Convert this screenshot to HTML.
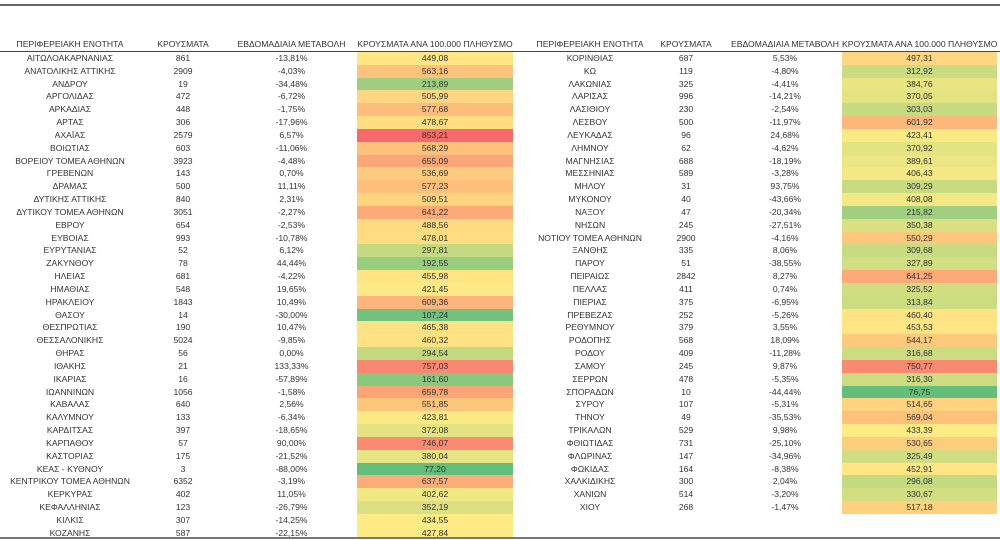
<!DOCTYPE html>
<html><head><meta charset="utf-8">
<style>
html,body{margin:0;padding:0;background:#fff;}
body{width:1000px;height:540px;position:relative;overflow:hidden;font-family:"Liberation Sans","DejaVu Sans",sans-serif;font-size:8.6px;color:#333;}
.topline{position:absolute;left:0;top:4px;width:1000px;height:2px;background:#666;}
.botline{position:absolute;left:0;top:537px;width:1000px;height:2px;background:#777;}
.hline{position:absolute;left:0;top:51px;width:1000px;height:1px;background:#444;}
.tbl{position:absolute;top:38px;}
.row{display:flex;height:12.83px;line-height:12.83px;white-space:nowrap;}
.hdr{height:13px;line-height:13px;}
.row div{text-align:center;overflow:visible;}
#L{left:0;} #R{left:520px;}
#L .c1{width:140px}#L .c2{width:86px}#L .c3{width:131px}#L .c4{width:156px}
#R .c1{width:140px}#R .c2{width:52px}#R .c3{width:114px;padding-left:16px}#R .c4{width:155px}
</style></head><body>
<div class="topline"></div>
<div class="tbl" id="L">
<div class="row hdr"><div class="c1">ΠΕΡΙΦΕΡΕΙΑΚΗ ΕΝΟΤΗΤΑ</div><div class="c2">ΚΡΟΥΣΜΑΤΑ</div><div class="c3">ΕΒΔΟΜΑΔΙΑΙΑ ΜΕΤΑΒΟΛΗ</div><div class="c4">ΚΡΟΥΣΜΑΤΑ ΑΝΑ 100.000 ΠΛΗΘΥΣΜΟ</div></div>
<div style="height:1px"></div>
<div class="row"><div class="c1">ΑΙΤΩΛΟΑΚΑΡΝΑΝΙΑΣ</div><div class="c2">861</div><div class="c3">-13,81%</div><div class="c4 v">449,08</div></div>
<div class="row"><div class="c1">ΑΝΑΤΟΛΙΚΗΣ ΑΤΤΙΚΗΣ</div><div class="c2">2909</div><div class="c3">-4,03%</div><div class="c4 v">563,16</div></div>
<div class="row"><div class="c1">ΑΝΔΡΟΥ</div><div class="c2">19</div><div class="c3">-34,48%</div><div class="c4 v">213,89</div></div>
<div class="row"><div class="c1">ΑΡΓΟΛΙΔΑΣ</div><div class="c2">472</div><div class="c3">-6,72%</div><div class="c4 v">505,99</div></div>
<div class="row"><div class="c1">ΑΡΚΑΔΙΑΣ</div><div class="c2">448</div><div class="c3">-1,75%</div><div class="c4 v">577,68</div></div>
<div class="row"><div class="c1">ΑΡΤΑΣ</div><div class="c2">306</div><div class="c3">-17,96%</div><div class="c4 v">478,67</div></div>
<div class="row"><div class="c1">ΑΧΑΪΑΣ</div><div class="c2">2579</div><div class="c3">6,57%</div><div class="c4 v">853,21</div></div>
<div class="row"><div class="c1">ΒΟΙΩΤΙΑΣ</div><div class="c2">603</div><div class="c3">-11,06%</div><div class="c4 v">568,29</div></div>
<div class="row"><div class="c1">ΒΟΡΕΙΟΥ ΤΟΜΕΑ ΑΘΗΝΩΝ</div><div class="c2">3923</div><div class="c3">-4,48%</div><div class="c4 v">655,09</div></div>
<div class="row"><div class="c1">ΓΡΕΒΕΝΩΝ</div><div class="c2">143</div><div class="c3">0,70%</div><div class="c4 v">536,69</div></div>
<div class="row"><div class="c1">ΔΡΑΜΑΣ</div><div class="c2">500</div><div class="c3">11,11%</div><div class="c4 v">577,23</div></div>
<div class="row"><div class="c1">ΔΥΤΙΚΗΣ ΑΤΤΙΚΗΣ</div><div class="c2">840</div><div class="c3">2,31%</div><div class="c4 v">509,51</div></div>
<div class="row"><div class="c1">ΔΥΤΙΚΟΥ ΤΟΜΕΑ ΑΘΗΝΩΝ</div><div class="c2">3051</div><div class="c3">-2,27%</div><div class="c4 v">641,22</div></div>
<div class="row"><div class="c1">ΕΒΡΟΥ</div><div class="c2">654</div><div class="c3">-2,53%</div><div class="c4 v">488,56</div></div>
<div class="row"><div class="c1">ΕΥΒΟΙΑΣ</div><div class="c2">993</div><div class="c3">-10,78%</div><div class="c4 v">478,01</div></div>
<div class="row"><div class="c1">ΕΥΡΥΤΑΝΙΑΣ</div><div class="c2">52</div><div class="c3">6,12%</div><div class="c4 v">297,81</div></div>
<div class="row"><div class="c1">ΖΑΚΥΝΘΟΥ</div><div class="c2">78</div><div class="c3">44,44%</div><div class="c4 v">192,55</div></div>
<div class="row"><div class="c1">ΗΛΕΙΑΣ</div><div class="c2">681</div><div class="c3">-4,22%</div><div class="c4 v">455,98</div></div>
<div class="row"><div class="c1">ΗΜΑΘΙΑΣ</div><div class="c2">548</div><div class="c3">19,65%</div><div class="c4 v">421,45</div></div>
<div class="row"><div class="c1">ΗΡΑΚΛΕΙΟΥ</div><div class="c2">1843</div><div class="c3">10,49%</div><div class="c4 v">609,36</div></div>
<div class="row"><div class="c1">ΘΑΣΟΥ</div><div class="c2">14</div><div class="c3">-30,00%</div><div class="c4 v">107,24</div></div>
<div class="row"><div class="c1">ΘΕΣΠΡΩΤΙΑΣ</div><div class="c2">190</div><div class="c3">10,47%</div><div class="c4 v">465,38</div></div>
<div class="row"><div class="c1">ΘΕΣΣΑΛΟΝΙΚΗΣ</div><div class="c2">5024</div><div class="c3">-9,85%</div><div class="c4 v">460,32</div></div>
<div class="row"><div class="c1">ΘΗΡΑΣ</div><div class="c2">56</div><div class="c3">0,00%</div><div class="c4 v">294,54</div></div>
<div class="row"><div class="c1">ΙΘΑΚΗΣ</div><div class="c2">21</div><div class="c3">133,33%</div><div class="c4 v">757,03</div></div>
<div class="row"><div class="c1">ΙΚΑΡΙΑΣ</div><div class="c2">16</div><div class="c3">-57,89%</div><div class="c4 v">161,60</div></div>
<div class="row"><div class="c1">ΙΩΑΝΝΙΝΩΝ</div><div class="c2">1056</div><div class="c3">-1,58%</div><div class="c4 v">659,78</div></div>
<div class="row"><div class="c1">ΚΑΒΑΛΑΣ</div><div class="c2">640</div><div class="c3">2,56%</div><div class="c4 v">551,85</div></div>
<div class="row"><div class="c1">ΚΑΛΥΜΝΟΥ</div><div class="c2">133</div><div class="c3">-6,34%</div><div class="c4 v">423,81</div></div>
<div class="row"><div class="c1">ΚΑΡΔΙΤΣΑΣ</div><div class="c2">397</div><div class="c3">-18,65%</div><div class="c4 v">372,08</div></div>
<div class="row"><div class="c1">ΚΑΡΠΑΘΟΥ</div><div class="c2">57</div><div class="c3">90,00%</div><div class="c4 v">746,07</div></div>
<div class="row"><div class="c1">ΚΑΣΤΟΡΙΑΣ</div><div class="c2">175</div><div class="c3">-21,52%</div><div class="c4 v">380,04</div></div>
<div class="row"><div class="c1">ΚΕΑΣ - ΚΥΘΝΟΥ</div><div class="c2">3</div><div class="c3">-88,00%</div><div class="c4 v">77,20</div></div>
<div class="row"><div class="c1">ΚΕΝΤΡΙΚΟΥ ΤΟΜΕΑ ΑΘΗΝΩΝ</div><div class="c2">6352</div><div class="c3">-3,19%</div><div class="c4 v">637,57</div></div>
<div class="row"><div class="c1">ΚΕΡΚΥΡΑΣ</div><div class="c2">402</div><div class="c3">11,05%</div><div class="c4 v">402,62</div></div>
<div class="row"><div class="c1">ΚΕΦΑΛΛΗΝΙΑΣ</div><div class="c2">123</div><div class="c3">-26,79%</div><div class="c4 v">352,19</div></div>
<div class="row"><div class="c1">ΚΙΛΚΙΣ</div><div class="c2">307</div><div class="c3">-14,25%</div><div class="c4 v">434,55</div></div>
<div class="row"><div class="c1">ΚΟΖΑΝΗΣ</div><div class="c2">587</div><div class="c3">-22,15%</div><div class="c4 v">427,84</div></div>
</div>
<div class="tbl" id="R">
<div class="row hdr"><div class="c1">ΠΕΡΙΦΕΡΕΙΑΚΗ ΕΝΟΤΗΤΑ</div><div class="c2">ΚΡΟΥΣΜΑΤΑ</div><div class="c3">ΕΒΔΟΜΑΔΙΑΙΑ ΜΕΤΑΒΟΛΗ</div><div class="c4">ΚΡΟΥΣΜΑΤΑ ΑΝΑ 100.000 ΠΛΗΘΥΣΜΟ</div></div>
<div style="height:1px"></div>
<div class="row"><div class="c1">ΚΟΡΙΝΘΙΑΣ</div><div class="c2">687</div><div class="c3">5,53%</div><div class="c4 v">497,31</div></div>
<div class="row"><div class="c1">ΚΩ</div><div class="c2">119</div><div class="c3">-4,80%</div><div class="c4 v">312,92</div></div>
<div class="row"><div class="c1">ΛΑΚΩΝΙΑΣ</div><div class="c2">325</div><div class="c3">-4,41%</div><div class="c4 v">384,76</div></div>
<div class="row"><div class="c1">ΛΑΡΙΣΑΣ</div><div class="c2">996</div><div class="c3">-14,21%</div><div class="c4 v">370,05</div></div>
<div class="row"><div class="c1">ΛΑΣΙΘΙΟΥ</div><div class="c2">230</div><div class="c3">-2,54%</div><div class="c4 v">303,03</div></div>
<div class="row"><div class="c1">ΛΕΣΒΟΥ</div><div class="c2">500</div><div class="c3">-11,97%</div><div class="c4 v">601,92</div></div>
<div class="row"><div class="c1">ΛΕΥΚΑΔΑΣ</div><div class="c2">96</div><div class="c3">24,68%</div><div class="c4 v">423,41</div></div>
<div class="row"><div class="c1">ΛΗΜΝΟΥ</div><div class="c2">62</div><div class="c3">-4,62%</div><div class="c4 v">370,92</div></div>
<div class="row"><div class="c1">ΜΑΓΝΗΣΙΑΣ</div><div class="c2">688</div><div class="c3">-18,19%</div><div class="c4 v">389,61</div></div>
<div class="row"><div class="c1">ΜΕΣΣΗΝΙΑΣ</div><div class="c2">589</div><div class="c3">-3,28%</div><div class="c4 v">406,43</div></div>
<div class="row"><div class="c1">ΜΗΛΟΥ</div><div class="c2">31</div><div class="c3">93,75%</div><div class="c4 v">309,29</div></div>
<div class="row"><div class="c1">ΜΥΚΟΝΟΥ</div><div class="c2">40</div><div class="c3">-43,66%</div><div class="c4 v">408,08</div></div>
<div class="row"><div class="c1">ΝΑΞΟΥ</div><div class="c2">47</div><div class="c3">-20,34%</div><div class="c4 v">215,82</div></div>
<div class="row"><div class="c1">ΝΗΣΩΝ</div><div class="c2">245</div><div class="c3">-27,51%</div><div class="c4 v">350,38</div></div>
<div class="row"><div class="c1">ΝΟΤΙΟΥ ΤΟΜΕΑ ΑΘΗΝΩΝ</div><div class="c2">2900</div><div class="c3">-4,16%</div><div class="c4 v">550,29</div></div>
<div class="row"><div class="c1">ΞΑΝΘΗΣ</div><div class="c2">335</div><div class="c3">8,06%</div><div class="c4 v">309,68</div></div>
<div class="row"><div class="c1">ΠΑΡΟΥ</div><div class="c2">51</div><div class="c3">-38,55%</div><div class="c4 v">327,89</div></div>
<div class="row"><div class="c1">ΠΕΙΡΑΙΩΣ</div><div class="c2">2842</div><div class="c3">8,27%</div><div class="c4 v">641,25</div></div>
<div class="row"><div class="c1">ΠΕΛΛΑΣ</div><div class="c2">411</div><div class="c3">0,74%</div><div class="c4 v">325,52</div></div>
<div class="row"><div class="c1">ΠΙΕΡΙΑΣ</div><div class="c2">375</div><div class="c3">-6,95%</div><div class="c4 v">313,84</div></div>
<div class="row"><div class="c1">ΠΡΕΒΕΖΑΣ</div><div class="c2">252</div><div class="c3">-5,26%</div><div class="c4 v">460,40</div></div>
<div class="row"><div class="c1">ΡΕΘΥΜΝΟΥ</div><div class="c2">379</div><div class="c3">3,55%</div><div class="c4 v">453,53</div></div>
<div class="row"><div class="c1">ΡΟΔΟΠΗΣ</div><div class="c2">568</div><div class="c3">18,09%</div><div class="c4 v">544,17</div></div>
<div class="row"><div class="c1">ΡΟΔΟΥ</div><div class="c2">409</div><div class="c3">-11,28%</div><div class="c4 v">316,68</div></div>
<div class="row"><div class="c1">ΣΑΜΟΥ</div><div class="c2">245</div><div class="c3">9,87%</div><div class="c4 v">750,77</div></div>
<div class="row"><div class="c1">ΣΕΡΡΩΝ</div><div class="c2">478</div><div class="c3">-5,35%</div><div class="c4 v">316,30</div></div>
<div class="row"><div class="c1">ΣΠΟΡΑΔΩΝ</div><div class="c2">10</div><div class="c3">-44,44%</div><div class="c4 v">76,75</div></div>
<div class="row"><div class="c1">ΣΥΡΟΥ</div><div class="c2">107</div><div class="c3">-5,31%</div><div class="c4 v">514,65</div></div>
<div class="row"><div class="c1">ΤΗΝΟΥ</div><div class="c2">49</div><div class="c3">-35,53%</div><div class="c4 v">569,04</div></div>
<div class="row"><div class="c1">ΤΡΙΚΑΛΩΝ</div><div class="c2">529</div><div class="c3">9,98%</div><div class="c4 v">433,39</div></div>
<div class="row"><div class="c1">ΦΘΙΩΤΙΔΑΣ</div><div class="c2">731</div><div class="c3">-25,10%</div><div class="c4 v">530,65</div></div>
<div class="row"><div class="c1">ΦΛΩΡΙΝΑΣ</div><div class="c2">147</div><div class="c3">-34,96%</div><div class="c4 v">325,49</div></div>
<div class="row"><div class="c1">ΦΩΚΙΔΑΣ</div><div class="c2">164</div><div class="c3">-8,38%</div><div class="c4 v">452,91</div></div>
<div class="row"><div class="c1">ΧΑΛΚΙΔΙΚΗΣ</div><div class="c2">300</div><div class="c3">2,04%</div><div class="c4 v">296,08</div></div>
<div class="row"><div class="c1">ΧΑΝΙΩΝ</div><div class="c2">514</div><div class="c3">-3,20%</div><div class="c4 v">330,67</div></div>
<div class="row"><div class="c1">ΧΙΟΥ</div><div class="c2">268</div><div class="c3">-1,47%</div><div class="c4 v">517,18</div></div>
</div>
<div class="hline"></div>
<div class="botline"></div>
<script>
var cells=[].slice.call(document.querySelectorAll('.v'));
var vals=cells.map(function(c){return parseFloat(c.textContent.replace(',','.'));});
var s=vals.slice().sort(function(a,b){return a-b;});
var mn=s[0],mx=s[s.length-1],md=(s[36]+s[37])/2;
var G=[99,190,123],Y=[255,235,132],Rr=[248,105,107];
function mix(a,b,t){return a.map(function(x,i){return Math.round(x+(b[i]-x)*t);});}
cells.forEach(function(c,i){var v=vals[i],col;
if(v<=md)col=mix(G,Y,(v-mn)/(md-mn));else col=mix(Y,Rr,(v-md)/(mx-md));
c.style.background='rgb('+col.join(',')+')';});
</script>
</body></html>
